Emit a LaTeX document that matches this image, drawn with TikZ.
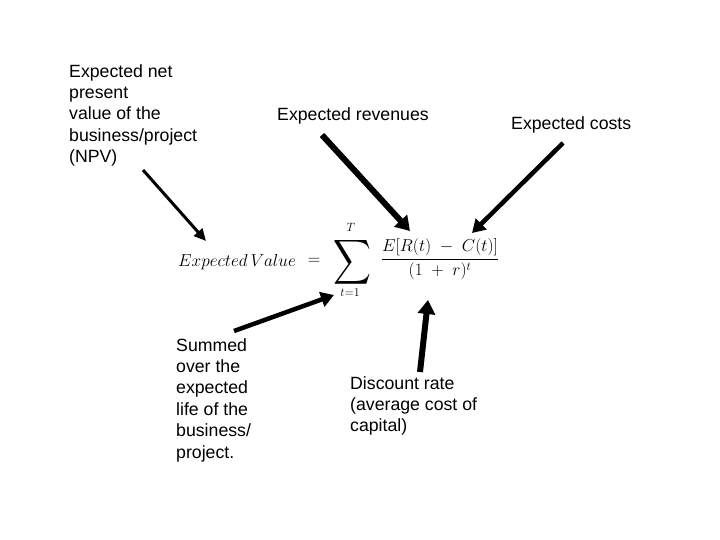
\documentclass[tikz,border=0pt]{standalone}
\usepackage{fontspec}
\setmainfont{Liberation Sans}
\usepackage{amsmath}
\usepackage{graphicx}
\usetikzlibrary{arrows.meta}
\begin{document}
\begin{tikzpicture}[x=1pt,y=-1pt,
  lbl/.style={font=\fontsize{17.7}{21.4}\selectfont, align=left, inner sep=0pt},
  mth/.style={inner sep=0pt, font=\fontsize{18}{21}\selectfont},
  thinarrow/.style={line width=3pt, -{Triangle[length=12pt,width=11pt]}},
  thickarrow/.style={line width=6pt, -{Triangle[length=14pt,width=17pt]}},
  midarrow/.style={line width=4.5pt, -{Triangle[length=13pt,width=15pt]}}]
\useasboundingbox (0,0) rectangle (720,540);
\fill[white] (0,0) rectangle (720,540);
% labels
\node[lbl, anchor=north west] (npv) at (69,64) {Expected net\\present\\value of the\\business/project\\(NPV)};
\node[lbl, anchor=west] (rev) at (277,116) {Expected revenues};
\node[lbl, anchor=west] (cost) at (511,125) {Expected costs};
\node[lbl, anchor=north west] (sum) at (176,338) {Summed\\over the\\expected\\life of the\\business/\\project.};
\node[lbl, anchor=north west] (disc) at (350,376) {Discount rate\\(average cost of\\capital)};
% formula
\node[mth, anchor=west] (lhs) at (178,262) {$Expected\,Value$};
\node[mth] (eqs) at (314,261) {$=$};
\node[inner sep=0pt] (sig) at (353,262) {\resizebox*{38pt}{50pt}{$\displaystyle\sum$}};
\node[mth, font=\fontsize{13}{15}\selectfont, anchor=south] (up) at (351,232) {$T$};
\node[mth, font=\fontsize{13}{15}\selectfont, anchor=north] (lo) at (350,289) {$t{=}1$};
\node[mth] (frac) at (440,259) {$\dfrac{E[R(t)\;-\;C(t)]}{(1\;+\;r)^{t}}$};
% arrow points
\coordinate (a1s) at (143,170); \coordinate (a1e) at (206,241);
\coordinate (a2s) at (322,135); \coordinate (a2e) at (410,231);
\coordinate (a3s) at (563,143); \coordinate (a3e) at (472,233);
\coordinate (a4s) at (234,331); \coordinate (a4e) at (334,295);
\coordinate (a5s) at (420,372); \coordinate (a5e) at (428,300);
\draw[thinarrow] (a1s) -- (a1e);
\draw[thickarrow] (a2s) -- (a2e);
\draw[midarrow] (a3s) -- (a3e);
\draw[midarrow] (a4s) -- (a4e);
\draw[thickarrow] (a5s) -- (a5e);
\end{tikzpicture}
\end{document}
